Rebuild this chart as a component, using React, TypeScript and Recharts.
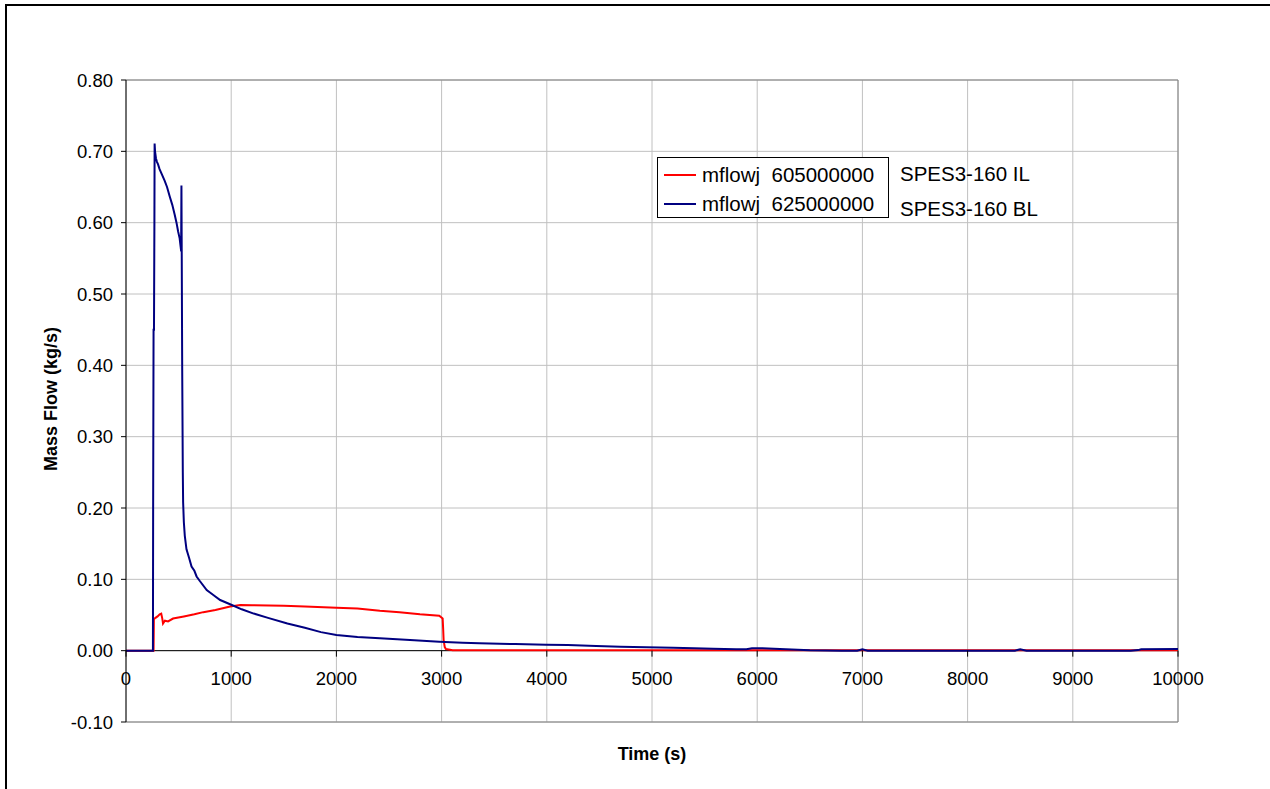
import React from 'react';
import { LineChart, Line, XAxis, YAxis, CartesianGrid, ReferenceLine, Legend } from 'recharts';

const FONT = '"Liberation Sans", Arial, Helvetica, sans-serif';

const seriesNames = ['mflowj  605000000', 'mflowj  625000000'];
const seriesLabels = ['SPES3-160 IL', 'SPES3-160 BL'];
const seriesColors = ['#FF0000', '#000080'];

const xTicks = [0, 1000, 2000, 3000, 4000, 5000, 6000, 7000, 8000, 9000, 10000];
const yTicks = [-0.1, 0, 0.1, 0.2, 0.3, 0.4, 0.5, 0.6, 0.7, 0.8];

const redTimes = [0, 255, 262, 265, 280, 300, 320, 335, 345, 352, 370, 400, 447, 550, 650, 735, 850, 990, 1086, 1200, 1500, 1700, 2000, 2200, 2413, 2600, 2794, 2978, 3010, 3015, 3019, 3030, 3041, 3105, 5000, 8000, 10000];
const redValues = [0, 0, 0, 0.044, 0.046, 0.048, 0.051, 0.052, 0.045, 0.038, 0.042, 0.041, 0.045, 0.048, 0.051, 0.054, 0.057, 0.062, 0.064, 0.0638, 0.063, 0.062, 0.060, 0.059, 0.056, 0.054, 0.051, 0.049, 0.045, 0.030, 0.015, 0.005, 0.0023, 0.0005, 0.0005, 0.0005, 0.0005];

const blueTimes = [0, 250, 256, 258, 262, 266, 270, 272, 276, 285, 295, 304, 319, 340, 367, 390, 415, 440, 463, 480, 495, 510, 521, 524, 527, 530, 534, 540, 543, 550, 559, 575, 600, 623, 650, 671, 700, 767, 830, 895, 1006, 1100, 1214, 1350, 1534, 1700, 1853, 2000, 2200, 2413, 2700, 2978, 3200, 3359, 3700, 3994, 4200, 4470, 4700, 4946, 5200, 5400, 5581, 5800, 5898, 5950, 6050, 6216, 6500, 6800, 6950, 7000, 7050, 8000, 8450, 8500, 8560, 9550, 9620, 9650, 10000];
const blueValues = [0, 0, 0, 0.2, 0.45, 0.45, 0.6, 0.711, 0.70, 0.69, 0.685, 0.682, 0.675, 0.668, 0.659, 0.65, 0.637, 0.625, 0.611, 0.6, 0.588, 0.578, 0.564, 0.565, 0.652, 0.55, 0.40, 0.25, 0.208, 0.18, 0.161, 0.142, 0.13, 0.118, 0.112, 0.104, 0.098, 0.085, 0.078, 0.071, 0.064, 0.058, 0.052, 0.046, 0.038, 0.032, 0.026, 0.022, 0.019, 0.0173, 0.0148, 0.0126, 0.011, 0.0103, 0.0092, 0.0084, 0.0078, 0.0065, 0.0056, 0.0047, 0.0042, 0.0035, 0.0028, 0.002, 0.0019, 0.0033, 0.0035, 0.0023, 0.0005, 0, 0, 0.002, 0, 0, 0, 0.002, 0, 0, 0.0008, 0.002, 0.0025];

const redData = redTimes.map((t, i) => ({ t, v: redValues[i] }));
const blueData = blueTimes.map((t, i) => ({ t, v: blueValues[i] }));

const W = 1270;
const H = 789;
const PLOT_TOP = 80;
const PLOT_BOTTOM = 722;
const Y_MIN = -0.1;
const Y_MAX = 0.8;
const ZERO_Y = PLOT_TOP + ((Y_MAX - 0) / (Y_MAX - Y_MIN)) * (PLOT_BOTTOM - PLOT_TOP);
const TICK_FS = 18.5;

const XTick = (props: any) => {
  const { x, payload } = props;
  return (
    <g>
      <line x1={x} x2={x} y1={ZERO_Y} y2={ZERO_Y + 6} stroke="#000" strokeWidth={1} />
      <text x={x} y={ZERO_Y + 34} textAnchor="middle" fontSize={TICK_FS} fontFamily={FONT} fill="#000">
        {payload.value}
      </text>
    </g>
  );
};

const XTitle = (props: any) => {
  const vb = props.viewBox;
  return (
    <text x={vb.x + vb.width / 2} y={vb.y + 38} textAnchor="middle" fontSize={18} fontWeight="bold" fontFamily={FONT} fill="#000">
      Time (s)
    </text>
  );
};

const YTitle = (props: any) => {
  const vb = props.viewBox;
  const cx = vb.x - 15.5;
  const cy = vb.y + vb.height / 2 - 2;
  return (
    <text x={cx} y={cy} transform={`rotate(-90, ${cx}, ${cy})`} textAnchor="middle" dominantBaseline="central" fontSize={18} fontWeight="bold" fontFamily={FONT} fill="#000">
      Mass Flow (kg/s)
    </text>
  );
};

const LegendContent = (props: any) => {
  const payload = props.payload || [];
  return (
    <div style={{ position: 'relative', fontFamily: FONT, width: 420, height: 70 }}>
      <div style={{ position: 'absolute', left: 0, top: 0, width: 232, height: 61, boxSizing: 'border-box', border: '1px solid #000', background: '#fff' }}>
        {payload.map((p: any, i: number) => (
          <div key={i} style={{ position: 'absolute', left: 6, top: 5 + i * 29, height: 24, display: 'flex', alignItems: 'center' }}>
            <div style={{ width: 32, height: 2, background: p.color, marginRight: 6 }} />
            <span style={{ fontSize: 20.5, whiteSpace: 'pre', color: '#000', lineHeight: '24px' }}>{p.value}</span>
          </div>
        ))}
      </div>
      {seriesLabels.map((s, i) => (
        <div key={s} style={{ position: 'absolute', left: 243, top: 5 + i * 35, fontSize: 20.5, lineHeight: '24px', color: '#000', whiteSpace: 'pre' }}>
          {s}
        </div>
      ))}
    </div>
  );
};

export default function App() {
  return (
    <div style={{ position: 'absolute', left: 0, top: 0, width: W, height: H, overflow: 'hidden', background: '#fff' }}>
      <div style={{ position: 'absolute', left: 5, top: 4, width: W + 20, height: H + 20, border: '2px solid #000', boxSizing: 'border-box' }} />
      <div style={{ position: 'absolute', left: 0, top: 0 }}>
        <LineChart width={W} height={H} margin={{ top: PLOT_TOP, right: 92, left: 66, bottom: 27 }}>
          <CartesianGrid stroke="#c0c0c0" strokeWidth={1} />
          <XAxis
            type="number"
            dataKey="t"
            domain={[0, 10000]}
            ticks={xTicks}
            allowDataOverflow
            axisLine={false}
            tickLine={false}
            height={40}
            tick={<XTick />}
            label={{ content: <XTitle /> }}
            interval={0}
          />
          <YAxis
            type="number"
            domain={[Y_MIN, Y_MAX]}
            ticks={yTicks}
            allowDataOverflow
            width={60}
            axisLine={{ stroke: '#000', strokeWidth: 1 }}
            tickLine={{ stroke: '#000', strokeWidth: 1 }}
            tickSize={5}
            tickMargin={8}
            tick={{ fontSize: TICK_FS, fill: '#000', fontFamily: FONT }}
            tickFormatter={(v: number) => v.toFixed(2)}
            label={{ content: <YTitle /> }}
            interval={0}
          />
          <ReferenceLine y={Y_MAX} stroke="#808080" strokeWidth={1} />
          <ReferenceLine y={Y_MIN} stroke="#808080" strokeWidth={1} />
          <ReferenceLine x={10000} stroke="#808080" strokeWidth={1} />
          <ReferenceLine y={0} stroke="#000" strokeWidth={1} />
          <Legend
            layout="vertical"
            align="center"
            verticalAlign="middle"
            content={<LegendContent />}
            wrapperStyle={{ position: 'absolute', left: 657, top: 157, width: 420, height: 70 }}
          />
          <Line data={redData} dataKey="v" name={seriesNames[0]} stroke={seriesColors[0]} strokeWidth={2} dot={false} type="linear" isAnimationActive={false} />
          <Line data={blueData} dataKey="v" name={seriesNames[1]} stroke={seriesColors[1]} strokeWidth={2} dot={false} type="linear" isAnimationActive={false} />
        </LineChart>
      </div>
    </div>
  );
}
